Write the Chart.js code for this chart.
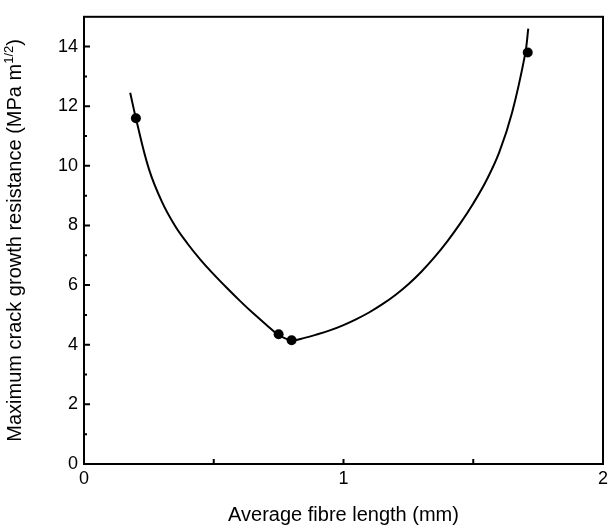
<!DOCTYPE html>
<html>
<head>
<meta charset="utf-8">
<script src="https://cdn.jsdelivr.net/npm/chart.js@4.4.1/dist/chart.umd.min.js"></script>
<style>
  html, body { margin: 0; padding: 0; background: #fff; }
  #wrap { width: 613px; height: 527px; }
</style>
</head>
<body>
<div id="wrap"><canvas id="chart" width="613" height="527"></canvas></div>
<script>
// measured points
const fibreLength = [0.2, 0.75, 0.8, 1.71];
const resistance = [11.6, 4.35, 4.15, 13.8];

// hand-fitted trend curve
const curveX = [0.178, 0.2, 0.25, 0.3, 0.35, 0.4, 0.45, 0.5, 0.55, 0.6, 0.65, 0.7, 0.75, 0.8,
                0.85, 0.9, 0.95, 1.0, 1.05, 1.1, 1.15, 1.2, 1.25, 1.3, 1.35, 1.4, 1.45, 1.5, 1.55, 1.6, 1.65, 1.7, 1.712];
const curveY = [12.45, 11.6, 9.9, 8.8, 8.0, 7.38, 6.84, 6.36, 5.91, 5.48, 5.07, 4.69, 4.33, 4.15,
                4.23, 4.35, 4.49, 4.66, 4.86, 5.09, 5.36, 5.67, 6.03, 6.45, 6.93, 7.47, 8.07, 8.74, 9.5, 10.45, 11.8, 13.75, 14.6];

const xTicks = [0, 1, 2];
const xMinorTicks = [0.5, 1, 1.5];
const yTicks = [0, 2, 4, 6, 8, 10, 12, 14];
const yMinorTicks = [1, 3, 5, 7, 9, 11, 13];

const xTitle = 'Average fibre length (mm)';
const yTitle = 'Maximum crack growth resistance (MPa m';
const yTitleSup = '1/2';

const FONT = '"Liberation Sans", Arial, Helvetica, sans-serif';

// frame, inward ticks and the y title (needs a superscript)
const framePlugin = {
    id: 'frame',
    afterDraw(chart) {
        const ctx = chart.ctx;
        const area = chart.chartArea;
        const xs = chart.scales.x;
        const ys = chart.scales.y;
        ctx.save();
        ctx.strokeStyle = '#000';
        ctx.lineWidth = 2;
        ctx.strokeRect(area.left, area.top, area.right - area.left, area.bottom - area.top);

        ctx.beginPath();
        yTicks.forEach(v => {
            const py = ys.getPixelForValue(v);
            ctx.moveTo(area.left, py);
            ctx.lineTo(area.left + 6, py);
        });
        yMinorTicks.forEach(v => {
            const py = ys.getPixelForValue(v);
            ctx.moveTo(area.left, py);
            ctx.lineTo(area.left + 3, py);
        });
        xMinorTicks.forEach(v => {
            const px = xs.getPixelForValue(v);
            ctx.moveTo(px, area.bottom);
            ctx.lineTo(px, area.bottom - 5);
        });
        ctx.stroke();

        // rotated y title
        ctx.fillStyle = '#000';
        ctx.font = '20px ' + FONT;
        const mainW = ctx.measureText(yTitle).width;
        const closeW = ctx.measureText(')').width;
        ctx.font = '13px ' + FONT;
        const supW = ctx.measureText(yTitleSup).width;
        const total = mainW + supW + closeW;
        const cy = (area.top + area.bottom) / 2;
        ctx.translate(21, cy);
        ctx.rotate(-Math.PI / 2);
        ctx.textBaseline = 'alphabetic';
        ctx.textAlign = 'left';
        let x0 = -total / 2;
        ctx.font = '20px ' + FONT;
        ctx.fillText(yTitle, x0, 0);
        x0 += mainW;
        ctx.font = '13px ' + FONT;
        ctx.fillText(yTitleSup, x0, -8);
        x0 += supW;
        ctx.font = '20px ' + FONT;
        ctx.fillText(')', x0, 0);
        ctx.restore();
    }
};

new Chart(document.getElementById('chart'), {
    type: 'line',
    data: {
        datasets: [
            {
                label: 'data',
                data: fibreLength.map((x, i) => ({ x: x, y: resistance[i] })),
                showLine: false,
                pointRadius: 5,
                pointBackgroundColor: '#000',
                pointBorderColor: '#000',
                pointBorderWidth: 0,
                order: 0
            },
            {
                label: 'fit',
                data: curveX.map((x, i) => ({ x: x, y: curveY[i] })),
                borderColor: '#000',
                borderWidth: 2,
                pointRadius: 0,
                tension: 0.4,
                fill: false,
                order: 1
            }
        ]
    },
    options: {
        responsive: false,
        animation: false,
        events: [],
        layout: { padding: { top: 15, right: 10, left: 0, bottom: 0 } },
        plugins: {
            legend: { display: false },
            tooltip: { enabled: false }
        },
        scales: {
            x: {
                type: 'linear',
                min: 0,
                max: 2,
                afterBuildTicks: scale => { scale.ticks = xTicks.map(v => ({ value: v })); },
                afterFit: scale => { scale.height = 63; },
                grid: { display: false, drawTicks: false },
                border: { display: false },
                ticks: {
                    color: '#000',
                    padding: 4,
                    maxRotation: 0,
                    font: { family: FONT, size: 18 }
                },
                title: {
                    display: true,
                    text: xTitle,
                    color: '#000',
                    padding: { top: 10, bottom: 0 },
                    font: { family: FONT, size: 20 }
                }
            },
            y: {
                type: 'linear',
                min: 0,
                max: 15,
                afterBuildTicks: scale => { scale.ticks = yTicks.map(v => ({ value: v })); },
                afterFit: scale => { scale.width = 84; },
                grid: { display: false, drawTicks: false },
                border: { display: false },
                ticks: {
                    color: '#000',
                    padding: 6,
                    font: { family: FONT, size: 18 }
                }
            }
        }
    },
    plugins: [framePlugin]
});
</script>
</body>
</html>
